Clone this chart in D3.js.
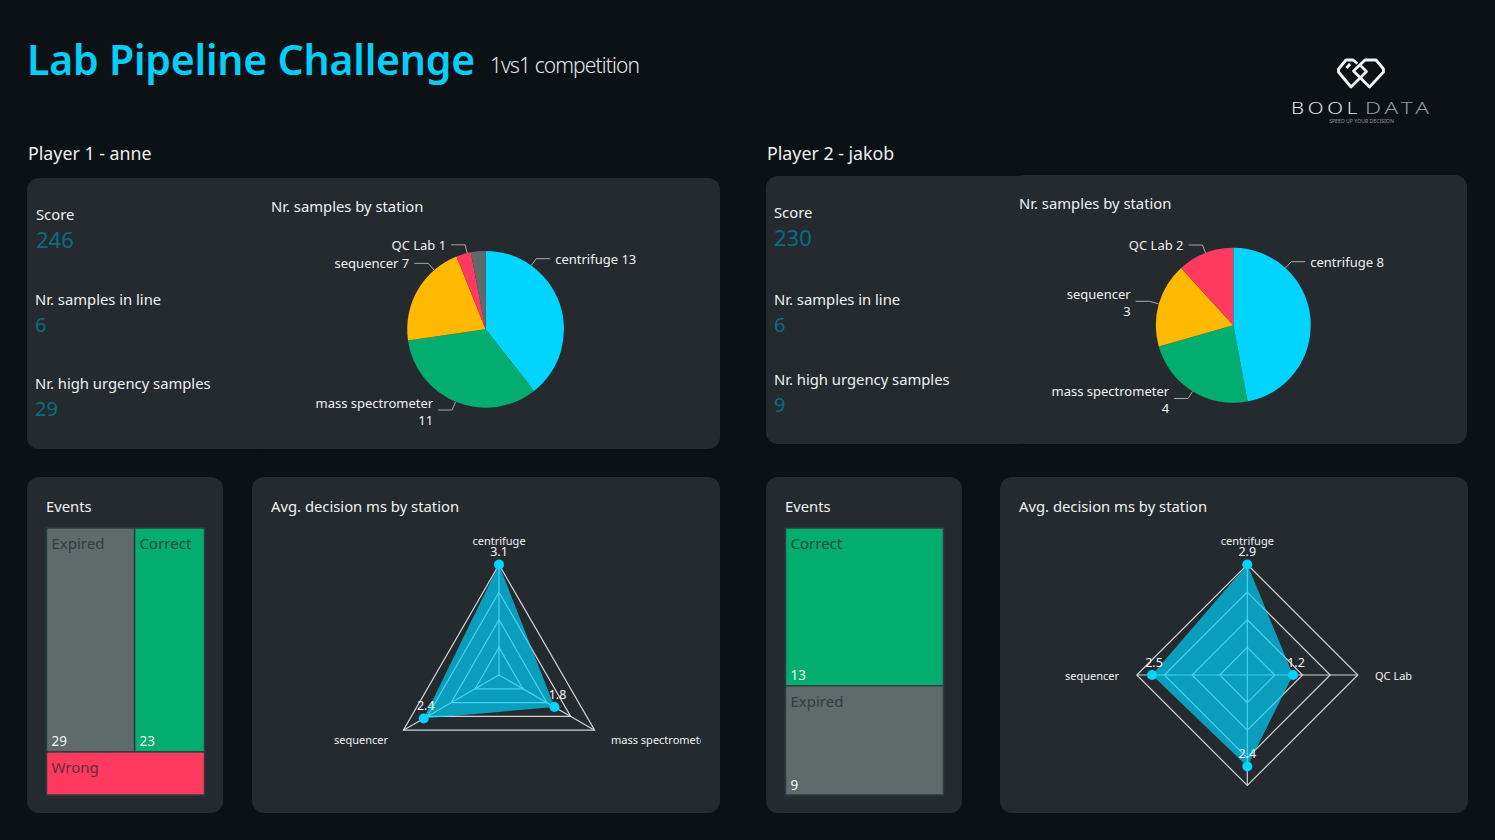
<!DOCTYPE html>
<html><head><meta charset="utf-8">
<script src="https://cdn.jsdelivr.net/npm/d3@7"></script>
<style>
html,body{margin:0;padding:0;background:#0c1116;overflow:hidden}
svg{display:block}
text{font-family:"Noto Sans",sans-serif;dominant-baseline:central}
</style></head><body>
<svg id="c" width="1495" height="840"></svg>
<script>
// ---- data ----
const titleText = "Lab Pipeline Challenge";
const subtitleText = "1vs1 competition";
const playerNames = ["Player 1 - anne", "Player 2 - jakob"];
const kpiLabels = ["Score", "Nr. samples in line", "Nr. high urgency samples"];
const kpiP1 = [246, 6, 29];
const kpiP2 = [230, 6, 9];
const pieNamesP1 = ["centrifuge", "mass spectrometer", "sequencer", "QC Lab", ""];
const pieValuesP1 = [13, 11, 7, 1, 1];
const pieNamesP2 = ["centrifuge", "mass spectrometer", "sequencer", "QC Lab"];
const pieValuesP2 = [8, 4, 3, 2];
const eventNamesP1 = ["Expired", "Correct", "Wrong"];
const eventValuesP1 = [29, 23, 10];
const eventNamesP2 = ["Correct", "Expired"];
const eventValuesP2 = [13, 9];
const radarAxesP1 = ["centrifuge", "mass spectrometer", "sequencer"];
const radarValuesP1 = [3.1, 1.8, 2.44];
const radarAxesP2 = ["centrifuge", "QC Lab", "", "sequencer"];
const radarValuesP2 = [2.9, 1.2, 2.4, 2.5];

// ---- style ----
const col = {bg:"#0c1116", panel:"#252a2f", cyan:"#00d4ff", green:"#03ac6f", amber:"#ffb900", red:"#ff3a5e", grey:"#5f6a6b", teal:"#0b6b82", text:"#f0f0f0"};
const pieColour = d3.scaleOrdinal(["centrifuge","mass spectrometer","sequencer","QC Lab",""],[col.cyan,col.green,col.amber,col.red,col.grey]);
const eventColour = d3.scaleOrdinal(["Correct","Expired","Wrong"],[col.green,col.grey,col.red]);
const svg = d3.select("#c");

function txt(g,x,y,s,size,fill,opts={}){
  return g.append("text").attr("x",x).attr("y",y-1).attr("font-size",size).attr("fill",fill)
    .attr("text-anchor",opts.anchor||"start").attr("font-weight",opts.weight||400)
    .attr("letter-spacing",opts.ls||null).attr("opacity",opts.op==null?null:opts.op).text(s);
}
function card(x0,y0,x1,y1){svg.append("rect").attr("x",x0).attr("y",y0).attr("width",x1-x0).attr("height",y1-y0).attr("rx",12).attr("fill",col.panel);}

// ---- header ----
txt(svg,27,59.5,titleText,41,"#08cdf6",{weight:600,ls:"-0.2px"});
txt(svg,490,66,subtitleText,21,"#e6e6e6",{weight:300,ls:"-0.9px"});
txt(svg,28,154,playerNames[0],17.8,col.text);
txt(svg,767,154,playerNames[1],17.8,col.text);

// logo
const logo = svg.append("g").attr("fill","none").attr("stroke","#f4f4f4").attr("stroke-width",2.8).attr("stroke-linejoin","round");
logo.append("path").attr("d","M1353.5 71L1365 60L1376 60L1383.5 69L1383.5 72L1369.5 87Z");
logo.append("path").attr("d","M1360 65L1366.5 71.5L1351 87L1338.5 72L1338.5 69L1346 60L1353 60L1357.5 63.5");
logo.append("path").attr("d","M1350 64L1346.5 68");
txt(svg,1291,108,"BOOL",16.5,"#e8e8e8",{weight:300,ls:"3px"}).attr("textLength",70).attr("lengthAdjust","spacingAndGlyphs");
txt(svg,1365,108,"DATA",16.5,"#9a9a9a",{weight:300,ls:"3px"}).attr("textLength",68).attr("lengthAdjust","spacingAndGlyphs");
txt(svg,1361.5,122,"SPEED UP YOUR DECISION",5.2,"#9a9a9a",{anchor:"middle"});

// ---- panels ----
function kpis(xs,labelYs,valueYs,vals){
  kpiLabels.forEach((l,i)=>{
    txt(svg,xs[i],labelYs[i],l,14.8,col.text);
    txt(svg,xs[i],valueYs[i],vals[i],i==0?22:20,col.teal);
  });
}
function pieChart(cx,cy,r,names,values,labels){
  const g = svg.append("g").attr("transform",`translate(${cx},${cy})`);
  const arcs = d3.pie().sort(null)(values);
  const arc = d3.arc().innerRadius(0).outerRadius(r);
  g.selectAll("path.s").data(arcs).join("path").attr("class","s").attr("d",arc).attr("fill",(d,i)=>pieColour(names[i]));
  const line = d3.line();
  labels.forEach(L=>{
    const i = names.indexOf(L.name), a = L.angle*Math.PI/180;
    const p0=[r*Math.sin(a),-r*Math.cos(a)];
    const p1=[(r+L.out)*Math.sin(a),-(r+L.out)*Math.cos(a)];
    const sgn=L.side;
    const p2=[p1[0]+sgn*14,p1[1]];
    g.append("path").attr("d",line([p0,p1,p2])).attr("fill","none").attr("stroke","#a8a8a8").attr("stroke-width",1);
    const tx=p2[0]+sgn*5, anchor=sgn>0?"start":"end";
    if(L.wrap){
      txt(g,tx,p2[1]-6.5,L.name,13,col.text,{anchor});
      txt(g,tx,p2[1]+11,values[i],13,col.text,{anchor});
    } else txt(g,tx,p2[1]+1,`${L.name} ${values[i]}`,13,col.text,{anchor});
  });
}
function treemap(x0,y0,x1,y1,names,values){
  const root = d3.hierarchy({children:names.map((n,i)=>({n,v:values[i]}))}).sum(d=>d.v||0);
  d3.treemap().size([x1-x0,y1-y0]).tile(d3.treemapSquarify).round(false)(root);
  const g = svg.append("g").attr("transform",`translate(${x0},${y0})`);
  root.leaves().forEach(l=>{
    g.append("rect").attr("x",l.x0).attr("y",l.y0).attr("width",l.x1-l.x0).attr("height",l.y1-l.y0)
      .attr("fill",eventColour(l.data.n)).attr("stroke","#2c3c40").attr("stroke-width",1.5);
    txt(g,l.x0+5,l.y0+16,l.data.n,15,"#262a30",{op:.72});
    if(l.y1-l.y0>60) txt(g,l.x0+5,l.y1-9.5,l.data.v,13.5,"#f4f4f4");
  });
}
function radar(cx,cy,R,axes,values,maxV,opts){
  const n=axes.length, g=svg.append("g");
  const clipId="clip"+Math.round(cx);
  svg.append("clipPath").attr("id",clipId).append("rect").attr("x",opts.clip[0]).attr("y",480).attr("width",opts.clip[1]-opts.clip[0]).attr("height",330);
  g.attr("clip-path",`url(#${clipId})`);
  const rad=d3.scaleLinear().domain([0,maxV]).range([0,R]);
  const ang=i=>i*2*Math.PI/n;
  const pt=(i,rr)=>[cx+rr*Math.sin(ang(i)),cy-rr*Math.cos(ang(i))];
  const closed=d3.line().curve(d3.curveLinearClosed);
  d3.range(1,5).forEach(k=>{
    g.append("path").attr("d",closed(d3.range(n).map(i=>pt(i,R*k/4)))).attr("fill","none").attr("stroke","#cfd2d4").attr("stroke-width",1.2);
  });
  d3.range(n).forEach(i=>{
    const p=pt(i,R);
    g.append("line").attr("x1",cx).attr("y1",cy).attr("x2",p[0]).attr("y2",p[1]).attr("stroke","#cfd2d4").attr("stroke-width",1.2);
  });
  g.append("path").attr("d",closed(values.map((v,i)=>pt(i,rad(v))))).attr("fill",col.cyan).attr("fill-opacity",.68);
  values.forEach((v,i)=>{
    const p=pt(i,rad(v));
    g.append("circle").attr("cx",p[0]).attr("cy",p[1]).attr("r",5).attr("fill",col.cyan);
  });
  values.forEach((v,i)=>{
    const p=pt(i,rad(v));
    txt(g,p[0]+opts.valDx(i),p[1]-12,v.toFixed(1),12.5,"#f4f4f4",{anchor:"middle"});
    if(axes[i]){
      const pos=opts.axisPos(i,pt(i,R));
      txt(g,pos[0],pos[1],axes[i],11,"#f0f0f0",{anchor:pos[2]});
    }
  });
}

// Player 1
card(27,178,292,449); card(250,178,720,449);
kpis([36,35,35],[215,300,384],[240,325,409],kpiP1);
txt(svg,271,207,"Nr. samples by station",14.8,col.text);
pieChart(485.6,329.3,78.4,pieNamesP1,pieValuesP1,[
  {name:"centrifuge",angle:35.6,out:8.5,side:1},
  {name:"mass spectrometer",angle:202.5,out:9,side:-1,wrap:true},
  {name:"sequencer",angle:319,out:9,side:-1},
  {name:"QC Lab",angle:346.4,out:8.5,side:-1}
]);
card(27,477,223,813);
txt(svg,46,507,"Events",14.8,col.text);
treemap(46.5,528,204.5,795,eventNamesP1,eventValuesP1);
card(252,477,720,813);
txt(svg,271,507,"Avg. decision ms by station",14.8,col.text);
radar(499,675,110.4,radarAxesP1,radarValuesP1,3.1,{
  clip:[255,701],
  valDx:i=>[0,3,2][i],
  axisPos:(i,p)=>i==0?[p[0],541,"middle"]:i==1?[611,740,"start"]:[388,740,"end"]
});

// Player 2
card(766,176,1030,444); card(1012,175,1467,444);
kpis([774,774,774],[213,300,380],[238,325,405],kpiP2);
txt(svg,1019,204,"Nr. samples by station",14.8,col.text);
pieChart(1233.3,325.3,77.5,pieNamesP2,pieValuesP2,[
  {name:"centrifuge",angle:42.3,out:8.5,side:1},
  {name:"mass spectrometer",angle:211.7,out:8.5,side:-1,wrap:true},
  {name:"sequencer",angle:286,out:9.5,side:-1,wrap:true},
  {name:"QC Lab",angle:339,out:8.5,side:-1}
]);
card(766,477,962,813);
txt(svg,785,507,"Events",14.8,col.text);
treemap(785.5,528,943.5,795,eventNamesP2,eventValuesP2);
card(1000,477,1468,813);
txt(svg,1019,507,"Avg. decision ms by station",14.8,col.text);
radar(1247.3,675,110.5,radarAxesP2,radarValuesP2,2.9,{
  clip:[1003,1465],
  valDx:i=>[0,3,0,2][i],
  axisPos:(i,p)=>i==0?[p[0],541,"middle"]:i==1?[1375,676,"start"]:[1119,676,"end"]
});
</script>
</body></html>
